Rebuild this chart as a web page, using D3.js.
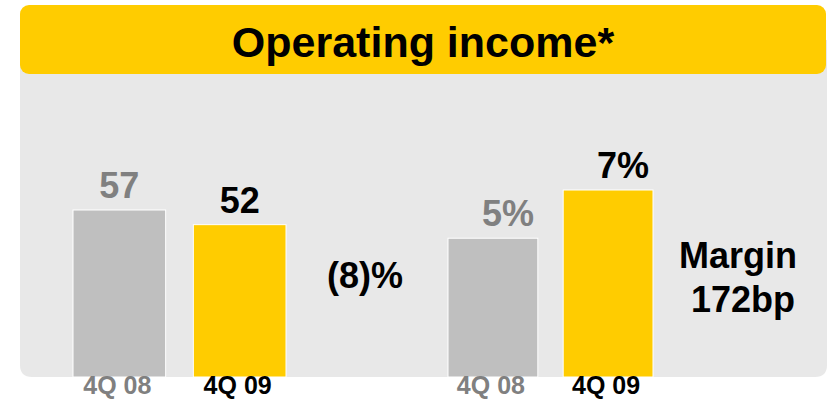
<!DOCTYPE html>
<html lang="en">
<head>
<meta charset="UTF-8">
<title>Operating income</title>
<script src="https://d3js.org/d3.v7.min.js"></script>
<style>
  html, body { margin: 0; padding: 0; background: #fff; }
  svg { display: block; font-family: "Liberation Sans", Arial, sans-serif; font-weight: bold; }
</style>
</head>
<body>
<svg id="chart" width="828" height="402"></svg>
<script>
// data
const periods = ["4Q 08", "4Q 09"];
const incomeValues = [57, 52];
const incomeLabels = ["57", "52"];
const marginValues = [4.95, 6.67];
const marginLabels = ["5%", "7%"];
const changeText = "(8)%";
const marginText = ["Margin", "172bp"];
const title = "Operating income*";

const barColors = ["#bfbfbf", "#ffcc00"];
const textColors = ["#808080", "#000000"];

const svg = d3.select("#chart");
const baseY = 377;

// background panel with rounded bottom corners
const r = 12;
svg.append("path")
  .attr("d", `M20,40 H827 V${baseY - r} Q827,${baseY} ${827 - r},${baseY} H${20 + r} Q20,${baseY} 20,${baseY - r} Z`)
  .attr("fill", "#e8e8e8");

// title banner
svg.append("rect")
  .attr("x", 20).attr("y", 5)
  .attr("width", 806).attr("height", 69)
  .attr("rx", 9)
  .attr("fill", "#ffcc00");

svg.append("text")
  .attr("x", 423).attr("y", 57)
  .attr("text-anchor", "middle")
  .style("font-size", "43px")
  .attr("fill", "#000")
  .text(title);

// left group: operating income
const x1 = d3.scaleBand().domain(periods).range([73, 286]).paddingInner(0.23);
const y1 = d3.scaleLinear().domain([0, 57]).range([baseY, 210]);

// right group: margin
const x2 = d3.scaleBand().domain(periods).range([448, 653]).paddingInner(0.22);
const y2 = d3.scaleLinear().domain([0, 6.67]).range([baseY, 190]);

function drawGroup(x, y, values, labels, labelDx, labelGap) {
  const g = svg.append("g");
  g.selectAll("rect")
    .data(values)
    .join("rect")
    .attr("x", (d, i) => x(periods[i]))
    .attr("y", d => y(d))
    .attr("width", x.bandwidth())
    .attr("height", d => baseY - y(d))
    .attr("fill", (d, i) => barColors[i])
    .attr("stroke", "#fff")
    .attr("stroke-width", 1);

  g.selectAll("text.val")
    .data(values)
    .join("text")
    .attr("class", "val")
    .attr("x", (d, i) => x(periods[i]) + x.bandwidth() / 2 + labelDx)
    .attr("y", d => y(d) - labelGap)
    .attr("text-anchor", "middle")
    .style("font-size", "36px")
    .attr("fill", (d, i) => textColors[i])
    .text((d, i) => labels[i]);

  // category labels sit just under the panel
  g.selectAll("text.cat")
    .data(periods)
    .join("text")
    .attr("class", "cat")
    .attr("x", d => x(d) + x.bandwidth() / 2 - 2)
    .attr("y", 394)
    .attr("text-anchor", "middle")
    .style("font-size", "25px")
    .attr("fill", (d, i) => textColors[i])
    .text(d => d);
}

drawGroup(x1, y1, incomeValues, incomeLabels, 0, 12);
drawGroup(x2, y2, marginValues, marginLabels, 15, 12);

svg.append("text")
  .attr("x", 365).attr("y", 288)
  .attr("text-anchor", "middle")
  .style("font-size", "36px")
  .attr("fill", "#000")
  .text(changeText);

svg.selectAll("text.margin")
  .data(marginText)
  .join("text")
  .attr("class", "margin")
  .attr("x", (d, i) => i === 0 ? 738 : 743)
  .attr("y", (d, i) => 268 + i * 44)
  .attr("text-anchor", "middle")
  .style("font-size", "36px")
  .attr("fill", "#000")
  .text(d => d);
</script>
</body>
</html>
